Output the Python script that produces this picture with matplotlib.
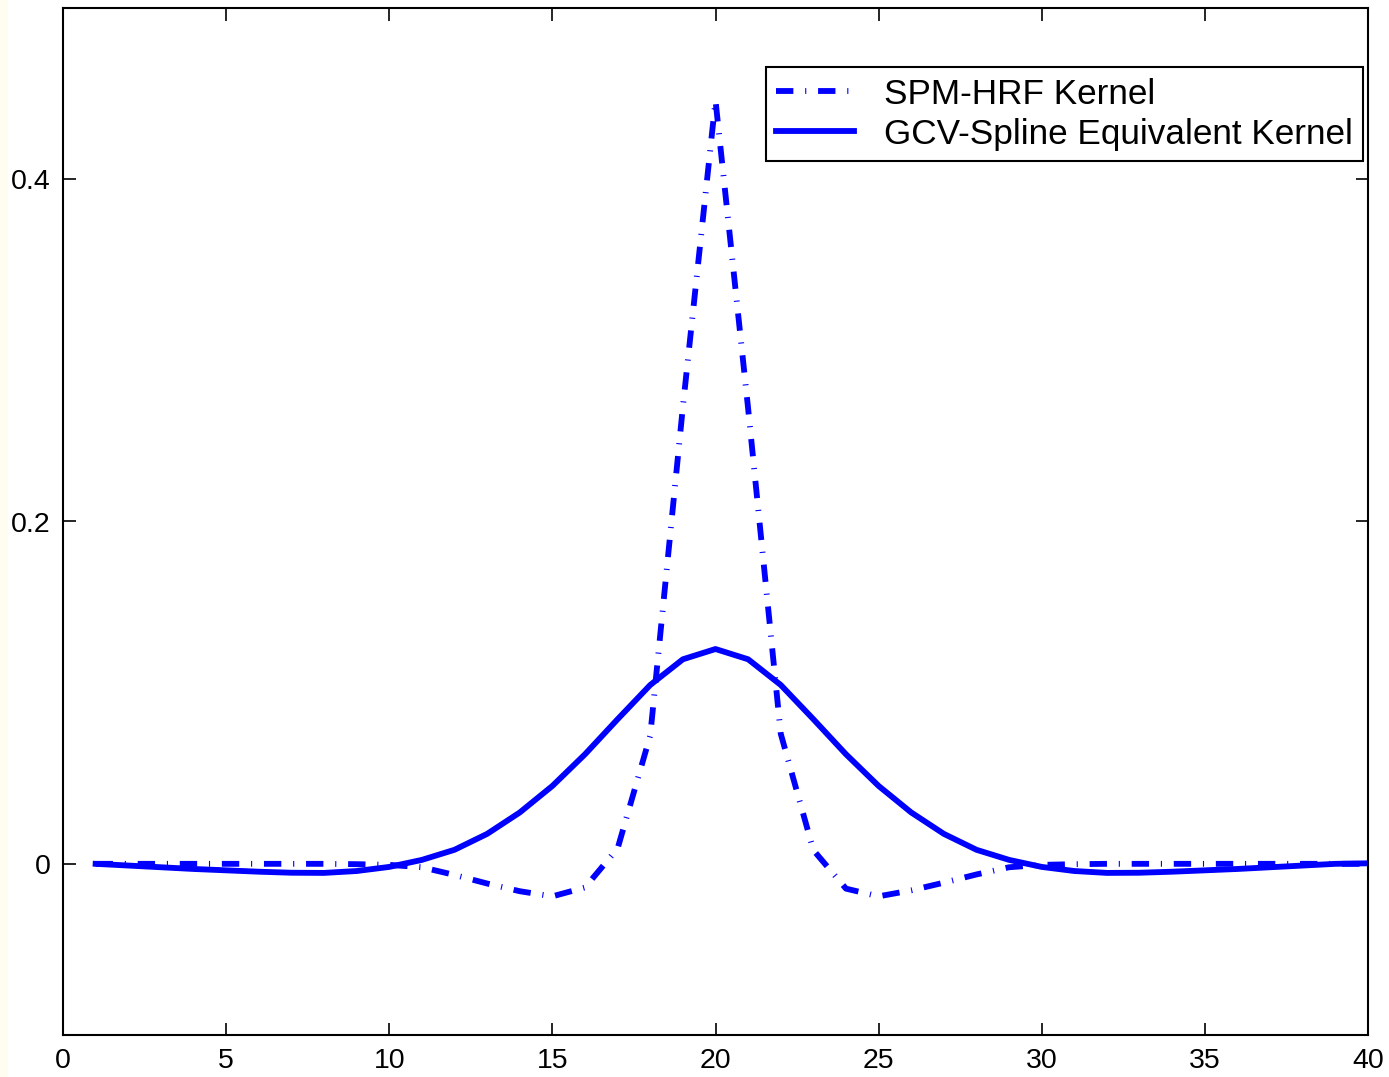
import matplotlib.pyplot as plt
import numpy as np
from matplotlib.patches import Rectangle

# Data (lag index 1..40)
lags = list(range(1, 41))

spm_hrf = [0.0, 0.0, 0.0, 0.0, 0.0, 0.0, 0.0, 0.0, -0.0002, -0.0006,
           -0.002, -0.0065, -0.0115, -0.016, -0.019, -0.0138, 0.009, 0.075, 0.267, 0.446,
           0.266, 0.076, 0.008, -0.0145, -0.019, -0.0155, -0.011, -0.0062, -0.002, -0.0006,
           -0.0002, 0.0, 0.0, 0.0, 0.0, 0.0, 0.0, 0.0, 0.0, 0.0]

gcv_spline = [0.0, -0.001, -0.002, -0.003, -0.0038, -0.0046, -0.0052, -0.0053, -0.0042, -0.0018,
              0.0023, 0.0082, 0.0175, 0.030, 0.0455, 0.064, 0.0845, 0.1045, 0.1195, 0.1255,
              0.1195, 0.1045, 0.0845, 0.064, 0.0455, 0.030, 0.0175, 0.0082, 0.0023, -0.0018,
              -0.0042, -0.0053, -0.0052, -0.0046, -0.0038, -0.003, -0.002, -0.001, 0.0, 0.0003]

x_ticks = [0, 5, 10, 15, 20, 25, 30, 35, 40]
y_ticks = [0, 0.2, 0.4]
y_tick_labels = ["0", "0.2", "0.4"]

plt.rcParams['font.family'] = ['Liberation Sans', 'DejaVu Sans']
plt.rcParams['lines.scale_dashes'] = False

fig = plt.figure(figsize=(13.89, 10.77), dpi=100)
fig.patches.append(Rectangle((0, 0), 8 / 1389, 1, transform=fig.transFigure,
                             facecolor='#fffdf0', edgecolor='none', zorder=-1))
ax = fig.add_axes([63 / 1389, 42 / 1077, 1305 / 1389, 1027 / 1077])

ax.plot(lags, spm_hrf, color='#0000ff', lw=4.2,
        linestyle=(0, (12.5, 8.5, 0.8, 8.5)), label='SPM-HRF Kernel')
ax.plot(lags, gcv_spline, color='#0000ff', lw=4.2, linestyle='-',
        label='GCV-Spline Equivalent Kernel')

ax.set_xlim(0, 40)
ax.set_ylim(-0.1, 0.5)
ax.set_xticks(x_ticks)
ax.set_yticks(y_ticks)
ax.set_yticklabels(y_tick_labels)
ax.tick_params(direction='in', length=9, width=1.2, top=True, right=True,
               labelsize=20.5, pad=9, colors='black')
for s in ax.spines.values():
    s.set_linewidth(1.5)

leg = ax.legend(loc='upper right', bbox_to_anchor=(1300 / 1305, (1035 - 67) / 1027),
                borderaxespad=0, fancybox=False, framealpha=1, edgecolor='black',
                fontsize=25.3, handlelength=2.2, handletextpad=0.85,
                borderpad=0.3, labelspacing=0.2)
leg.get_frame().set_linewidth(1.5)

plt.savefig('out.png', dpi=100)
